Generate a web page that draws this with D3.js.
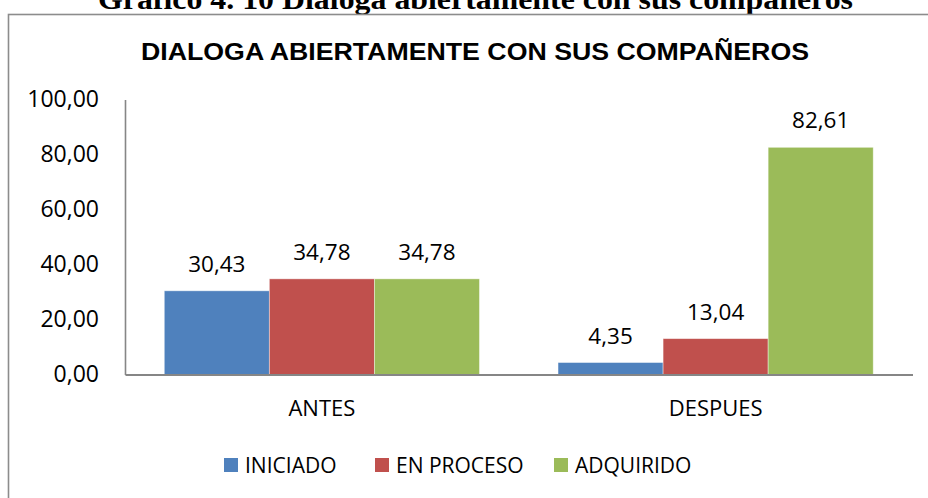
<!DOCTYPE html>
<html>
<head>
<meta charset="utf-8">
<script src="https://cdn.jsdelivr.net/npm/d3@7"></script>
<style>
  body { margin: 0; background: #fff; }
  svg { display: block; }
</style>
</head>
<body>
<div id="chart"></div>
<script>
// data
var categories = ["ANTES", "DESPUES"];
var series = ["INICIADO", "EN PROCESO", "ADQUIRIDO"];
var iniciado = [30.43, 4.35];
var enProceso = [34.78, 13.04];
var adquirido = [34.78, 82.61];
var yTicks = [0, 20, 40, 60, 80, 100];

var colors = ["#4F81BD", "#C0504D", "#9BBB59"];
var values = [iniciado, enProceso, adquirido];

var width = 928,
    height = 498;

var es = d3.formatLocale({decimal: ",", thousands: ".", grouping: [3], currency: ["", ""]});
var fmt = es.format(".2f");

var numFont = "'Open Sans', 'Noto Sans', sans-serif";

var svg = d3.select("#chart").append("svg")
    .attr("width", width)
    .attr("height", height);

// caption above the chart frame (cut at the top, as in the original)
svg.append("text")
    .attr("x", 98)
    .attr("y", 9)
    .attr("textLength", 755)
    .attr("lengthAdjust", "spacingAndGlyphs")
    .style("font-family", "'Liberation Serif', 'Times New Roman', serif")
    .style("font-weight", "bold")
    .style("font-size", "30px")
    .text("Gráfico 4. 10 Dialoga abiertamente con sus compañeros");

// chart frame
svg.append("rect")
    .attr("x", 8.5)
    .attr("y", 14.5)
    .attr("width", 940)
    .attr("height", 510)
    .attr("fill", "none")
    .attr("stroke", "#8c8c8c")
    .attr("stroke-width", 1.6);

svg.append("text")
    .attr("x", 141)
    .attr("y", 60)
    .attr("textLength", 668)
    .attr("lengthAdjust", "spacingAndGlyphs")
    .style("font-family", "'Liberation Sans', Arial, sans-serif")
    .style("font-weight", "bold")
    .style("font-size", "24.5px")
    .text("DIALOGA ABIERTAMENTE CON SUS COMPAÑEROS");

var x0 = d3.scaleBand()
    .domain(categories)
    .range([125, 912.5]);

var x1 = d3.scaleBand()
    .domain(series)
    .range([0, x0.bandwidth()])
    .paddingOuter(0.374);

var y = d3.scaleLinear()
    .domain([0, 100])
    .range([374.5, 99.5]);

// y axis
var yAxis = svg.append("g")
    .attr("transform", "translate(125,0)")
    .call(d3.axisLeft(y).tickValues(yTicks).tickSize(0).tickPadding(26).tickFormat(fmt));
yAxis.select(".domain").attr("stroke", "#868686").attr("stroke-width", 1.6);
yAxis.selectAll("text")
    .attr("fill", "#000")
    .style("font-family", numFont)
    .style("font-size", "23px");

// bars
var groups = svg.selectAll("g.grp")
    .data(categories)
  .enter().append("g")
    .attr("class", "grp")
    .attr("transform", (d) => "translate(" + x0(d) + ",0)");

groups.selectAll("rect")
    .data((d, i) => series.map((s, j) => ({s: s, v: values[j][i], c: colors[j]})))
  .enter().append("rect")
    .attr("x", (d) => x1(d.s))
    .attr("y", (d) => y(d.v))
    .attr("width", x1.bandwidth())
    .attr("height", (d) => y(0) - y(d.v))
    .attr("fill", (d) => d.c)
    .attr("stroke", "#fff")
    .attr("stroke-opacity", 0.5)
    .attr("stroke-width", 0.8);

groups.selectAll("text.lbl")
    .data((d, i) => series.map((s, j) => ({s: s, v: values[j][i]})))
  .enter().append("text")
    .attr("class", "lbl")
    .attr("x", (d) => x1(d.s) + x1.bandwidth() / 2)
    .attr("y", (d) => y(d.v) - 19)
    .attr("text-anchor", "middle")
    .style("font-family", numFont)
    .style("font-size", "22.5px")
    .text((d) => fmt(d.v));

// x axis
var xAxis = svg.append("g")
    .attr("transform", "translate(0," + y(0) + ")")
    .call(d3.axisBottom(x0).tickSize(0).tickPadding(26));
xAxis.select(".domain").attr("stroke", "#868686").attr("stroke-width", 1.8);
xAxis.selectAll("text")
    .attr("fill", "#000")
    .style("font-family", numFont)
    .style("font-size", "22px");

// legend
var legendX = [224, 375, 554];
var legend = svg.selectAll("g.leg")
    .data(series)
  .enter().append("g")
    .attr("class", "leg")
    .attr("transform", (d, i) => "translate(" + legendX[i] + ",458)");

legend.append("rect")
    .attr("width", 14)
    .attr("height", 14)
    .attr("fill", (d, i) => colors[i]);

legend.append("text")
    .attr("x", 21)
    .attr("y", 15)
    .style("font-family", numFont)
    .style("font-size", "21px")
    .text((d) => d);
</script>
</body>
</html>
